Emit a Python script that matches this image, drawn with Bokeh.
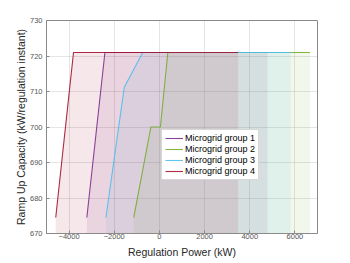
from bokeh.plotting import figure
from bokeh.models import FixedTicker, Range1d, Legend, LegendItem
from bokeh.embed import file_html
from bokeh.resources import INLINE

# Data
g1_x = [-3213, -2413, 4787]
g1_y = [674.5, 721, 721]
g2_x = [-1138, -378, 44, 373, 6667]
g2_y = [674.5, 700, 700, 721, 721]
g3_x = [-2369, -1556, -738, 5809]
g3_y = [674.5, 711.2, 721, 721]
g4_x = [-4591, -3804, 3484]
g4_y = [674.5, 721, 721]

labels = ["Microgrid group 1", "Microgrid group 2", "Microgrid group 3", "Microgrid group 4"]
colors = ["#7E2F8E", "#77AC30", "#4DBEEE", "#A2142F"]
x_ticks = [-4000, -2000, 0, 2000, 4000, 6000]
y_ticks = [670, 680, 690, 700, 710, 720, 730]

FONT = "Liberation Sans"

p = figure(width=345, height=260, output_backend="svg", toolbar_location=None,
           x_range=Range1d(-5000, 7000), y_range=Range1d(670, 730),
           min_border_left=46, min_border_right=28, min_border_top=20, min_border_bottom=26)

p.outline_line_color = "#8a8a8a"
p.outline_line_width = 1

series = [(g1_x, g1_y), (g2_x, g2_y), (g3_x, g3_y), (g4_x, g4_y)]
items = []
for (xs, ys), c, lab in zip(series, colors, labels):
    p.varea(x=xs, y1=[670] * len(xs), y2=ys, fill_color=c, fill_alpha=0.1)
for (xs, ys), c, lab in zip(series, colors, labels):
    r = p.line(xs, ys, line_color=c, line_width=1.1, line_alpha=0.9)
    items.append(LegendItem(label=lab, renderers=[r]))

legend = Legend(items=items, location=(115, 53))
legend.label_text_font = FONT
legend.label_text_font_size = "9px"
legend.label_text_color = "#000000"
legend.label_height = 10
legend.glyph_height = 10
legend.glyph_width = 18
legend.label_standoff = 2
legend.spacing = 1
legend.padding = 3
legend.margin = 0
legend.border_line_color = "#b0b0b0"
legend.border_line_width = 1
legend.background_fill_color = "white"
legend.background_fill_alpha = 1
p.add_layout(legend, "center")

for ax, ticks in ((p.xaxis[0], x_ticks), (p.yaxis[0], y_ticks)):
    ax.ticker = FixedTicker(ticks=ticks)
    ax.minor_tick_line_color = None
    ax.major_tick_in = 3
    ax.major_tick_out = 0
    ax.axis_line_color = "#8a8a8a"
    ax.major_tick_line_color = "#8a8a8a"
    ax.major_label_text_font = FONT
    ax.major_label_text_font_size = "7.5px"
    ax.major_label_text_color = "#555555"
    ax.axis_label_text_font = FONT
    ax.axis_label_text_font_size = "10.5px"
    ax.axis_label_text_font_style = "normal"
    ax.axis_label_text_color = "#262626"

p.xaxis[0].axis_label = "Regulation Power (kW)"
p.yaxis[0].axis_label = "Ramp Up Capacity (kW/regulation instant)"
p.xaxis[0].major_label_standoff = 0
p.xaxis[0].axis_label_standoff = 4
p.yaxis[0].major_label_standoff = 4
p.yaxis[0].axis_label_standoff = 0

p.xgrid.ticker = FixedTicker(ticks=x_ticks)
p.ygrid.ticker = FixedTicker(ticks=y_ticks)
p.grid.grid_line_color = "#262626"
p.grid.grid_line_alpha = 0.12

open("out.html", "w").write(file_html(p, INLINE))
